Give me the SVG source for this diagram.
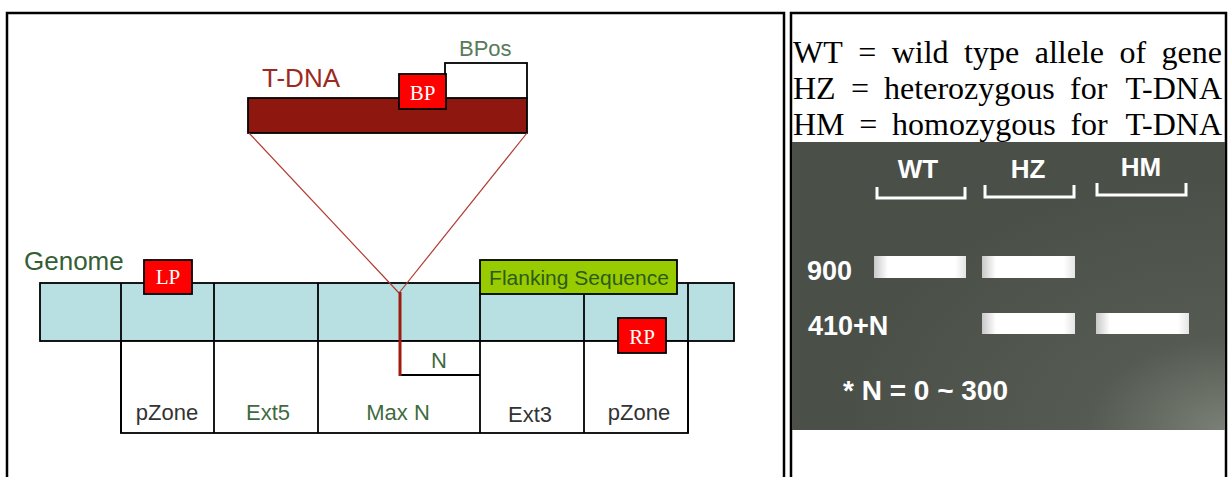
<svg xmlns="http://www.w3.org/2000/svg" width="1228" height="477" viewBox="0 0 1228 477">
<defs>
<style>
.frame{fill:none;stroke:#000;stroke-width:2.5}
.ln{stroke:#000;stroke-width:1.8;fill:none}
.sans{font-family:"Liberation Sans",Arial,sans-serif}
.red{fill:#ff0000;stroke:#000;stroke-width:1.8}
.rtxt{font-family:"Liberation Serif","Times New Roman",serif;font-size:21px;fill:#fff;text-anchor:middle}
.grn{fill:#3f6a3f}
.gry{fill:#333}
.blab{font-family:"Liberation Sans",Arial,sans-serif;font-size:22px;text-anchor:middle}
.leg{font-family:"Liberation Serif","Times New Roman",serif;font-size:32px;fill:#000}
.gel{font-family:"Liberation Sans",Arial,sans-serif;font-weight:bold;fill:#fff}
.brk{fill:none;stroke:#fff;stroke-width:3}
.band{fill:url(#band)}
</style>
<radialGradient id="gelbg" cx="1" cy="1" r="0.9">
<stop offset="0" stop-color="#7a8076"/>
<stop offset="0.35" stop-color="#555a52"/>
<stop offset="1" stop-color="#4a4f48"/>
</radialGradient>
<linearGradient id="band" x1="0" y1="0" x2="1" y2="0">
<stop offset="0" stop-color="#c8c8c8"/>
<stop offset="0.15" stop-color="#ffffff"/>
<stop offset="0.88" stop-color="#ffffff"/>
<stop offset="1" stop-color="#e4e4e4"/>
</linearGradient>
</defs>
<rect width="1228" height="477" fill="#fff"/>
<rect class="frame" x="7" y="13" width="777" height="480"/>
<rect class="frame" x="791" y="13" width="435" height="480"/>

<g id="tdna">
<rect x="248" y="98" width="279" height="35" fill="#8e1810" stroke="#000" stroke-width="1.8"/>
<text class="sans" x="262" y="87" font-size="26" fill="#9b2a23">T-DNA</text>
</g>
<g id="bpos">
<rect x="445" y="63" width="82" height="35" fill="#fff" stroke="#000" stroke-width="1.8"/>
<text class="sans" x="459" y="56" font-size="22" fill="#5a7a5a">BPos</text>
</g>
<g id="bp">
<rect class="red" x="399" y="74" width="47" height="35"/>
<text class="rtxt" x="422.5" y="100">BP</text>
</g>

<g id="genome">
<text class="sans" x="24" y="270" font-size="26" fill="#355e35">Genome</text>
<rect x="40" y="283" width="694" height="58" fill="#b8dfe2" stroke="#000" stroke-width="1.8"/>
<rect x="121" y="341" width="567" height="92" fill="#fff" stroke="#000" stroke-width="1.8"/>
<line class="ln" x1="121" y1="283" x2="121" y2="433"/>
<line class="ln" x1="214" y1="283" x2="214" y2="433"/>
<line class="ln" x1="318" y1="283" x2="318" y2="433"/>
<line class="ln" x1="480" y1="294" x2="480" y2="433"/>
<line class="ln" x1="584" y1="294" x2="584" y2="433"/>
<line class="ln" x1="688" y1="283" x2="688" y2="433"/>
<line class="ln" x1="400" y1="375" x2="480" y2="375"/>
</g>

<g id="connectors">
<line x1="249" y1="133" x2="399" y2="293" stroke="#b03a30" stroke-width="1.2"/>
<line x1="527" y1="133" x2="399" y2="293" stroke="#b03a30" stroke-width="1.2"/>
<line x1="400" y1="292" x2="400" y2="376" stroke="#a01a10" stroke-width="3"/>
</g>

<g id="labels">
<text class="blab gry" x="167" y="420">pZone</text>
<text class="blab grn" x="268" y="420">Ext5</text>
<text class="blab grn" x="398" y="420">Max N</text>
<text class="blab gry" x="530" y="422">Ext3</text>
<text class="blab gry" x="639" y="420">pZone</text>
<text class="blab grn" x="439" y="368">N</text>
</g>

<g id="flanking">
<rect x="480" y="260" width="197" height="34" fill="#99cc00" stroke="#000" stroke-width="1.8"/>
<text class="sans" x="579" y="285" font-size="21" fill="#2d5a1a" text-anchor="middle">Flanking Sequence</text>
</g>
<g id="lp">
<rect class="red" x="144" y="260" width="48" height="34"/>
<text class="rtxt" x="168" y="284">LP</text>
</g>
<g id="rp">
<rect class="red" x="618" y="318" width="48" height="35"/>
<text class="rtxt" x="642" y="344">RP</text>
</g>

<g id="legend">
<text class="leg" y="63"><tspan x="793">WT</tspan><tspan x="858.2">=</tspan><tspan x="891.7">wild</tspan><tspan x="964.1">type</tspan><tspan x="1034.7">allele</tspan><tspan x="1119.5">of</tspan></text>
<text class="leg" x="1222" y="63" text-anchor="end">gene</text>
<text class="leg" y="99"><tspan x="793">HZ</tspan><tspan x="850.9">=</tspan><tspan x="884.1">heterozygous</tspan><tspan x="1070">for</tspan></text>
<text class="leg" x="1222" y="99" text-anchor="end">T-DNA</text>
<text class="leg" y="135"><tspan x="793">HM</tspan><tspan x="859.3">=</tspan><tspan x="892.1">homozygous</tspan><tspan x="1070.4">for</tspan></text>
<text class="leg" x="1222" y="135" text-anchor="end">T-DNA</text>
</g>

<g id="gel">
<rect x="792" y="142" width="433" height="288" fill="url(#gelbg)"/>
<text class="gel" x="918" y="178" font-size="26" text-anchor="middle">WT</text>
<text class="gel" x="1028" y="178" font-size="26" text-anchor="middle">HZ</text>
<text class="gel" x="1141" y="176" font-size="26" text-anchor="middle">HM</text>
<path class="brk" d="M877,187 V198 H965 V187"/>
<path class="brk" d="M985,185 V197 H1074 V185"/>
<path class="brk" d="M1097,183 V195 H1186 V183"/>
<text class="gel" x="807" y="280" font-size="27">900</text>
<text class="gel" x="808" y="335" font-size="27">410+N</text>
<text class="gel" x="843" y="400" font-size="28">* N = 0 ~ 300</text>
<rect class="band" x="874" y="256" width="92" height="22"/>
<rect class="band" x="982" y="256" width="93" height="22"/>
<rect class="band" x="982" y="313" width="93" height="21"/>
<rect class="band" x="1096" y="313" width="93" height="21"/>
</g>
</svg>
